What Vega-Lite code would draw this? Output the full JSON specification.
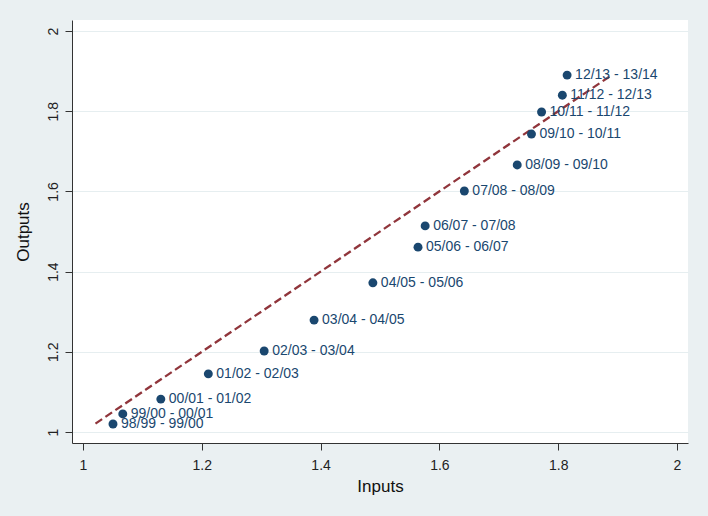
{
  "$schema": "https://vega.github.io/schema/vega-lite/v6.json",
  "autosize": {"type": "none"},
  "padding": {"left": 72, "top": 20, "right": 20, "bottom": 73},
  "width": 616,
  "height": 423,
  "background": "#eaf0f2",
  "config": {
    "view": {"stroke": null, "fill": "#ffffff"},
    "font": "Liberation Sans"
  },
  "datasets": {
    "points": [
      {"label": "98/99 - 99/00", "inputs": 1.0505, "outputs": 1.020},
      {"label": "99/00 - 00/01", "inputs": 1.067, "outputs": 1.045},
      {"label": "00/01 - 01/02", "inputs": 1.131, "outputs": 1.082},
      {"label": "01/02 - 02/03", "inputs": 1.211, "outputs": 1.145},
      {"label": "02/03 - 03/04", "inputs": 1.305, "outputs": 1.202},
      {"label": "03/04 - 04/05", "inputs": 1.389, "outputs": 1.279},
      {"label": "04/05 - 05/06", "inputs": 1.488, "outputs": 1.372},
      {"label": "05/06 - 06/07", "inputs": 1.564, "outputs": 1.461},
      {"label": "06/07 - 07/08", "inputs": 1.576, "outputs": 1.514},
      {"label": "07/08 - 08/09", "inputs": 1.642, "outputs": 1.601},
      {"label": "08/09 - 09/10", "inputs": 1.731, "outputs": 1.666},
      {"label": "09/10 - 10/11", "inputs": 1.755, "outputs": 1.743},
      {"label": "10/11 - 11/12", "inputs": 1.772, "outputs": 1.798},
      {"label": "11/12 - 12/13", "inputs": 1.807, "outputs": 1.840},
      {"label": "12/13 - 13/14", "inputs": 1.815, "outputs": 1.890}
    ],
    "diag": [
      {"inputs": 1.021, "outputs": 1.021},
      {"inputs": 1.887, "outputs": 1.887}
    ]
  },
  "layer": [
    {
      "data": {"name": "diag"},
      "mark": {"type": "line", "color": "#90353b", "strokeWidth": 2.3, "strokeDash": [8, 4]},
      "encoding": {
        "x": {
          "field": "inputs", "type": "quantitative",
          "scale": {"domain": [0.98148, 2.01852], "nice": false, "zero": false},
          "axis": {
            "title": "Inputs", "values": [1, 1.2, 1.4, 1.6, 1.8, 2], "format": "~g",
            "grid": false, "tickSize": 7, "labelPadding": 8,
            "domainColor": "#333333", "tickColor": "#333333",
            "labelFontSize": 14, "labelColor": "#222222",
            "titleFontSize": 17, "titleFontWeight": "normal", "titleColor": "#111111",
            "titlePadding": 6, "labelFlush": false
          }
        },
        "y": {
          "field": "outputs", "type": "quantitative",
          "scale": {"domain": [0.97257, 2.02743], "nice": false, "zero": false},
          "axis": {
            "title": "Outputs", "values": [1, 1.2, 1.4, 1.6, 1.8, 2], "format": "~g",
            "grid": true, "gridColor": "#e6eef0", "gridWidth": 1,
            "tickSize": 7, "labelPadding": 5,
            "labelAngle": 270, "labelAlign": "center", "labelBaseline": "bottom",
            "domainColor": "#333333", "tickColor": "#333333",
            "labelFontSize": 14, "labelColor": "#222222",
            "titleFontSize": 17, "titleFontWeight": "normal", "titleColor": "#111111",
            "titlePadding": 14, "labelFlush": false
          }
        }
      }
    },
    {
      "data": {"name": "points"},
      "mark": {"type": "point", "filled": true, "opacity": 1, "color": "#1a476f", "size": 80},
      "encoding": {
        "x": {"field": "inputs", "type": "quantitative"},
        "y": {"field": "outputs", "type": "quantitative"}
      }
    },
    {
      "data": {"name": "points"},
      "mark": {"type": "text", "align": "left", "baseline": "middle", "dx": 8, "fontSize": 14, "color": "#1a476f"},
      "encoding": {
        "x": {"field": "inputs", "type": "quantitative"},
        "y": {"field": "outputs", "type": "quantitative"},
        "text": {"field": "label"}
      }
    }
  ]
}
